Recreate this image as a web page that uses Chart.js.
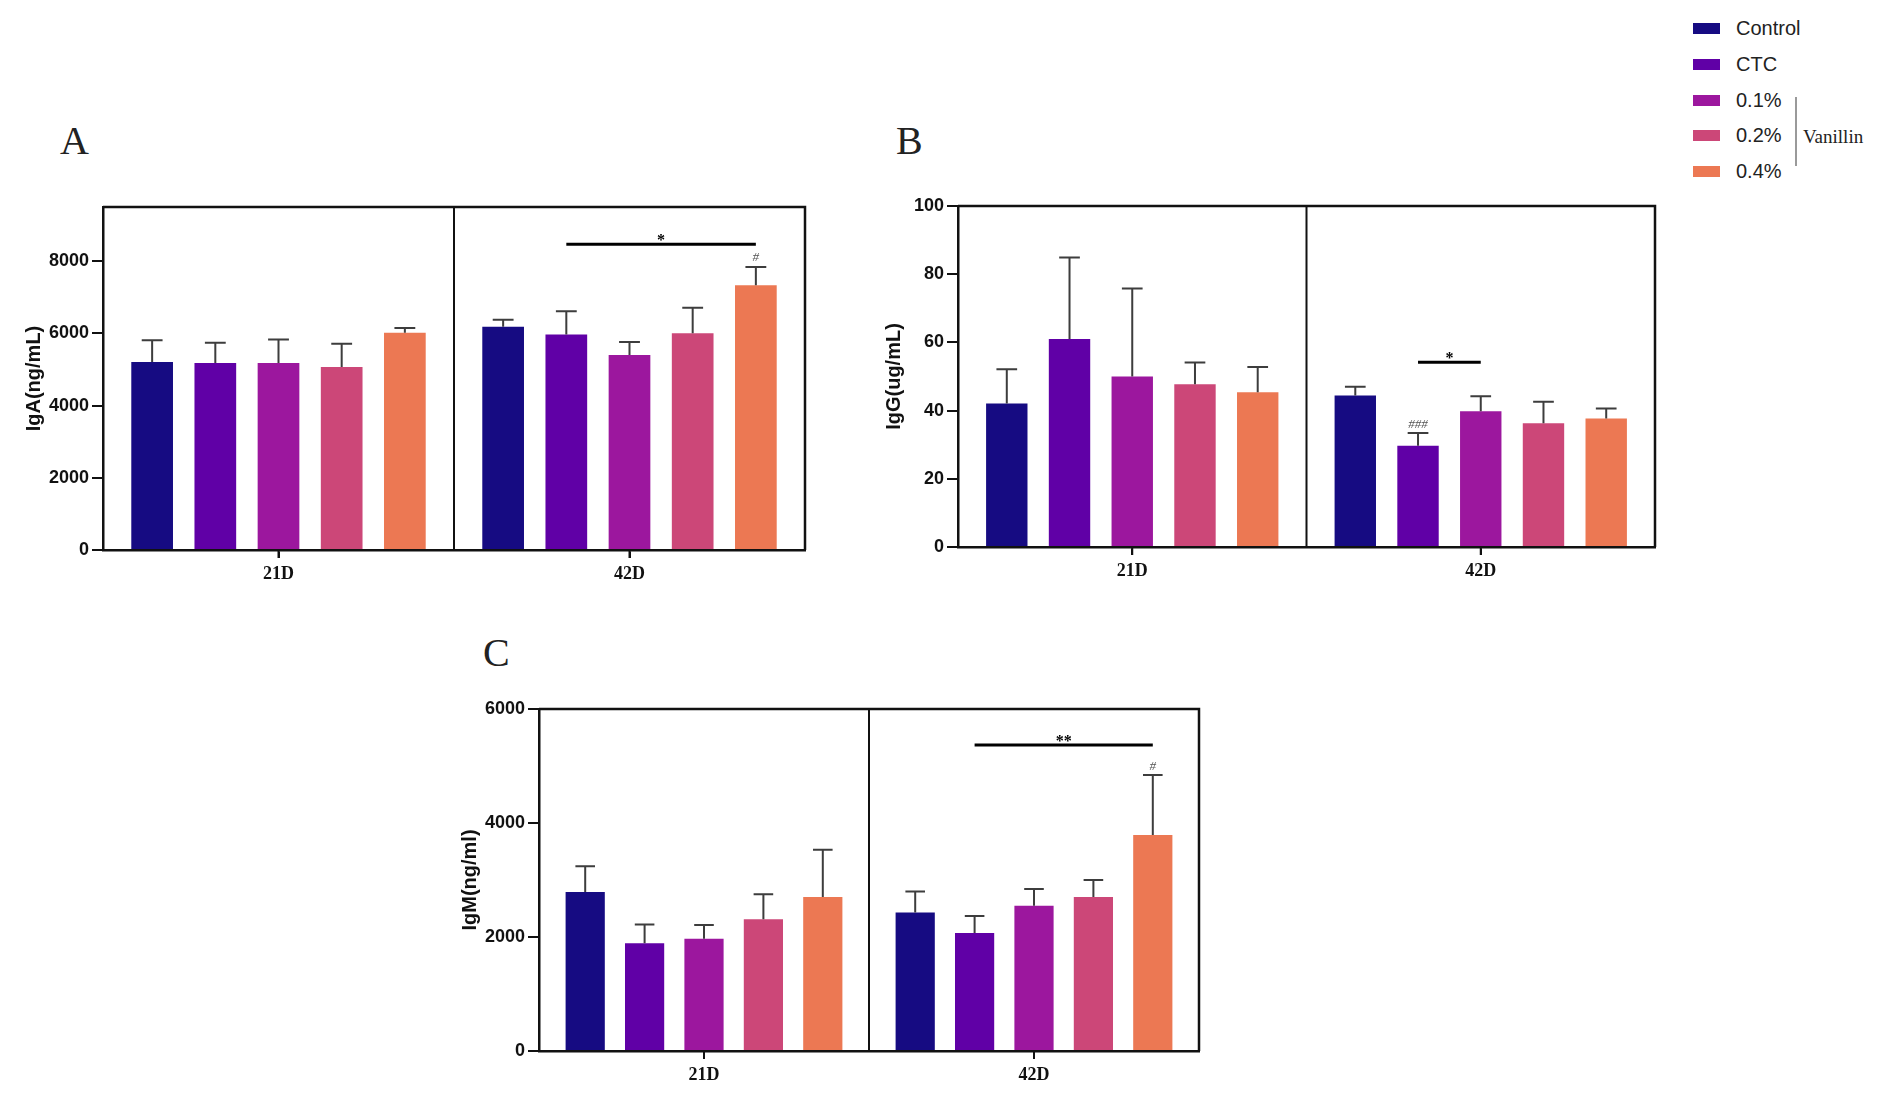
<!DOCTYPE html>
<html lang="en">
<head>
<meta charset="UTF-8">
<title>Serum IgA, IgG and IgM - Vanillin</title>
<script src="https://cdn.jsdelivr.net/npm/chart.js"></script>
<style>
  body {
    margin: 0;
    background: #fff;
    width: 1889px;
    height: 1105px;
    position: relative;
    overflow: hidden;
    font-family: 'Liberation Sans', Arial, sans-serif;
  }
  canvas { position: absolute; }
  .letter {
    position: absolute;
    font-family: 'Liberation Serif', 'Times New Roman', serif;
    font-size: 40px;
    line-height: 40px;
    color: #222;
  }
  #legend { position: absolute; left: 1693px; top: 11px; }
  .row { display: flex; align-items: center; height: 35.7px; font-size: 20px; color: #222; }
  .swatch { width: 27px; height: 11px; margin-right: 16px; }
  #bracket { position: absolute; left: 1795px; top: 97px; width: 2px; height: 69px; background: #9a9a9a; }
  #vanillin {
    position: absolute; left: 1803px; top: 127px;
    font-family: 'Liberation Serif', 'Times New Roman', serif;
    font-size: 19px; line-height: 20px; color: #222;
  }
</style>
</head>
<body>

<div class="letter" style="left:60px; top:121px;">A</div>
<div class="letter" style="left:896px; top:121px;">B</div>
<div class="letter" style="left:483px; top:633px;">C</div>

<canvas id="chartA" width="830" height="420" style="left:0px; top:180px;"></canvas>
<canvas id="chartB" width="830" height="420" style="left:850px; top:180px;"></canvas>
<canvas id="chartC" width="800" height="420" style="left:430px; top:680px;"></canvas>

<div id="legend"></div>
<div id="bracket"></div>
<div id="vanillin">Vanillin</div>

<script>
// categories and groups
const days = ['21D', '42D'];
const groups = ['Control', 'CTC', '0.1%', '0.2%', '0.4%'];
const groupColors = ['#160b82', '#6000a6', '#9c179e', '#cc4778', '#ec7853'];

// IgA (ng/mL): means and upper error per group
const igaMean21 = [5210, 5180, 5180, 5070, 6020];
const igaErr21  = [600, 560, 650, 640, 130];
const igaMean42 = [6180, 5970, 5400, 6000, 7330];
const igaErr42  = [200, 640, 360, 710, 510];
const igaTicks  = [0, 2000, 4000, 6000, 8000];

// IgG (ug/mL)
const iggMean21 = [42.1, 61.0, 50.0, 47.7, 45.4];
const iggErr21  = [10.0, 23.9, 25.8, 6.4, 7.4];
const iggMean42 = [44.4, 29.7, 39.8, 36.3, 37.7];
const iggErr42  = [2.6, 3.7, 4.4, 6.3, 2.9];
const iggTicks  = [0, 20, 40, 60, 80, 100];

// IgM (ng/ml)
const igmMean21 = [2790, 1890, 1970, 2310, 2700];
const igmErr21  = [450, 330, 240, 440, 830];
const igmMean42 = [2430, 2070, 2550, 2700, 3790];
const igmErr42  = [370, 300, 290, 300, 1050];
const igmTicks  = [0, 2000, 4000, 6000];

// significance marks (42D): bar from group to group at a level, and # over a group
const igaSig = { from: 1, to: 4, level: 8470, mark: '*' };
const iggSig = { from: 1, to: 2, level: 54.2, mark: '*' };
const igmSig = { from: 1, to: 4, level: 5370, mark: '**' };
const igaHash = { group: 4, mark: '#' };
const iggHash = { group: 1, mark: '###' };
const igmHash = { group: 4, mark: '#' };

// legend
const legend = document.getElementById('legend');
groups.forEach((g, i) => {
    const row = document.createElement('div');
    row.className = 'row';
    const sw = document.createElement('span');
    sw.className = 'swatch';
    sw.style.background = groupColors[i];
    const txt = document.createElement('span');
    txt.textContent = g;
    row.appendChild(sw);
    row.appendChild(txt);
    legend.appendChild(row);
});

// error bars, frame, divider and significance marks
const panelDecor = {
    id: 'panelDecor',
    afterDatasetsDraw(chart, args, opts) {
        const { ctx, chartArea: a, scales: { x, y } } = chart;
        ctx.save();

        // error bars (upper only)
        ctx.strokeStyle = '#3d3d3d';
        ctx.lineWidth = 2;
        chart.data.datasets.forEach((ds, di) => {
            chart.getDatasetMeta(di).data.forEach((bar, i) => {
                const top = y.getPixelForValue(ds.data[i] + ds.errors[i]);
                const half = bar.width * 0.25;
                ctx.beginPath();
                ctx.moveTo(bar.x, bar.y);
                ctx.lineTo(bar.x, top);
                ctx.moveTo(bar.x - half, top);
                ctx.lineTo(bar.x + half, top);
                ctx.stroke();
            });
        });

        // top + right frame
        ctx.strokeStyle = '#111';
        ctx.lineWidth = 2.5;
        ctx.beginPath();
        ctx.moveTo(a.left, a.top);
        ctx.lineTo(a.right, a.top);
        ctx.lineTo(a.right, a.bottom);
        ctx.stroke();

        // divider between days
        const mid = (x.getPixelForValue(0) + x.getPixelForValue(1)) / 2;
        ctx.lineWidth = 2;
        ctx.beginPath();
        ctx.moveTo(mid, a.top);
        ctx.lineTo(mid, a.bottom);
        ctx.stroke();

        // tick marks under the day labels
        ctx.lineWidth = 2;
        [0, 1].forEach(i => {
            const tx = x.getPixelForValue(i);
            ctx.beginPath();
            ctx.moveTo(tx, a.bottom);
            ctx.lineTo(tx, a.bottom + 8);
            ctx.stroke();
        });

        // significance line
        const s = opts.sig;
        const x1 = chart.getDatasetMeta(s.from).data[1].x;
        const x2 = chart.getDatasetMeta(s.to).data[1].x;
        const ly = y.getPixelForValue(s.level);
        ctx.strokeStyle = '#000';
        ctx.lineWidth = 3;
        ctx.beginPath();
        ctx.moveTo(x1, ly);
        ctx.lineTo(x2, ly);
        ctx.stroke();
        ctx.fillStyle = '#000';
        ctx.textAlign = 'center';
        ctx.textBaseline = 'alphabetic';
        ctx.font = 'bold 16px "Liberation Serif"';
        ctx.fillText(s.mark, (x1 + x2) / 2, ly + 1);

        // # over a bar
        const h = opts.hash;
        const ds = chart.data.datasets[h.group];
        const hb = chart.getDatasetMeta(h.group).data[1];
        const capY = y.getPixelForValue(ds.data[1] + ds.errors[1]);
        ctx.fillStyle = '#555';
        ctx.textBaseline = 'middle';
        ctx.font = 'italic 13px "Liberation Serif"';
        ctx.fillText(h.mark, hb.x, capY - 9);

        ctx.restore();
    }
};

function makePanel(id, p) {
    const datasets = groups.map((g, i) => ({
        label: g,
        data: [p.mean21[i], p.mean42[i]],
        errors: [p.err21[i], p.err42[i]],
        backgroundColor: groupColors[i],
        borderWidth: 0,
        categoryPercentage: 0.9,
        barPercentage: 0.66
    }));

    new Chart(document.getElementById(id), {
        type: 'bar',
        data: { labels: days, datasets: datasets },
        plugins: [panelDecor],
        options: {
            responsive: false,
            animation: false,
            layout: { padding: { top: p.padTop, right: p.padRight, left: 0, bottom: 0 } },
            plugins: {
                legend: { display: false },
                tooltip: { enabled: false },
                panelDecor: { sig: p.sig, hash: p.hash }
            },
            scales: {
                x: {
                    grid: { drawOnChartArea: false, drawTicks: true, tickLength: 8, offset: false, color: '#111', lineWidth: 2 },
                    border: { display: true, color: '#111', width: 2.5 },
                    ticks: {
                        color: '#111',
                        padding: 6,
                        font: { family: '"Liberation Serif", "Times New Roman", serif', weight: 'bold', size: 18 }
                    },
                    afterFit: s => { s.height = p.xHeight; }
                },
                y: {
                    min: 0,
                    max: p.max,
                    afterBuildTicks: s => { s.ticks = p.ticks.map(v => ({ value: v })); },
                    grid: { drawOnChartArea: false, drawTicks: true, tickLength: 11, color: '#111', lineWidth: 2 },
                    border: { display: true, color: '#111', width: 2.5 },
                    ticks: {
                        color: '#111',
                        padding: 3,
                        callback: v => String(v),
                        font: { family: '"Liberation Sans", Arial, sans-serif', weight: 'bold', size: 18 }
                    },
                    title: {
                        display: true,
                        text: p.title,
                        color: '#111',
                        font: { family: '"Liberation Sans", Arial, sans-serif', weight: 'bold', size: 20 },
                        padding: { top: p.titlePad, bottom: 0 }
                    },
                    afterFit: s => { s.width = p.yWidth; }
                }
            }
        }
    });
}

makePanel('chartA', {
    mean21: igaMean21, err21: igaErr21, mean42: igaMean42, err42: igaErr42,
    ticks: igaTicks, max: 9500, title: 'IgA(ng/mL)', sig: igaSig, hash: igaHash,
    padTop: 27, padRight: 25, yWidth: 103, xHeight: 50, titlePad: 22
});

makePanel('chartB', {
    mean21: iggMean21, err21: iggErr21, mean42: iggMean42, err42: iggErr42,
    ticks: iggTicks, max: 100, title: 'IgG(ug/mL)', sig: iggSig, hash: iggHash,
    padTop: 26, padRight: 25, yWidth: 108, xHeight: 53, titlePad: 32
});

makePanel('chartC', {
    mean21: igmMean21, err21: igmErr21, mean42: igmMean42, err42: igmErr42,
    ticks: igmTicks, max: 6000, title: 'IgM(ng/ml)', sig: igmSig, hash: igmHash,
    padTop: 29, padRight: 31, yWidth: 109, xHeight: 49, titlePad: 28
});
</script>

</body>
</html>
